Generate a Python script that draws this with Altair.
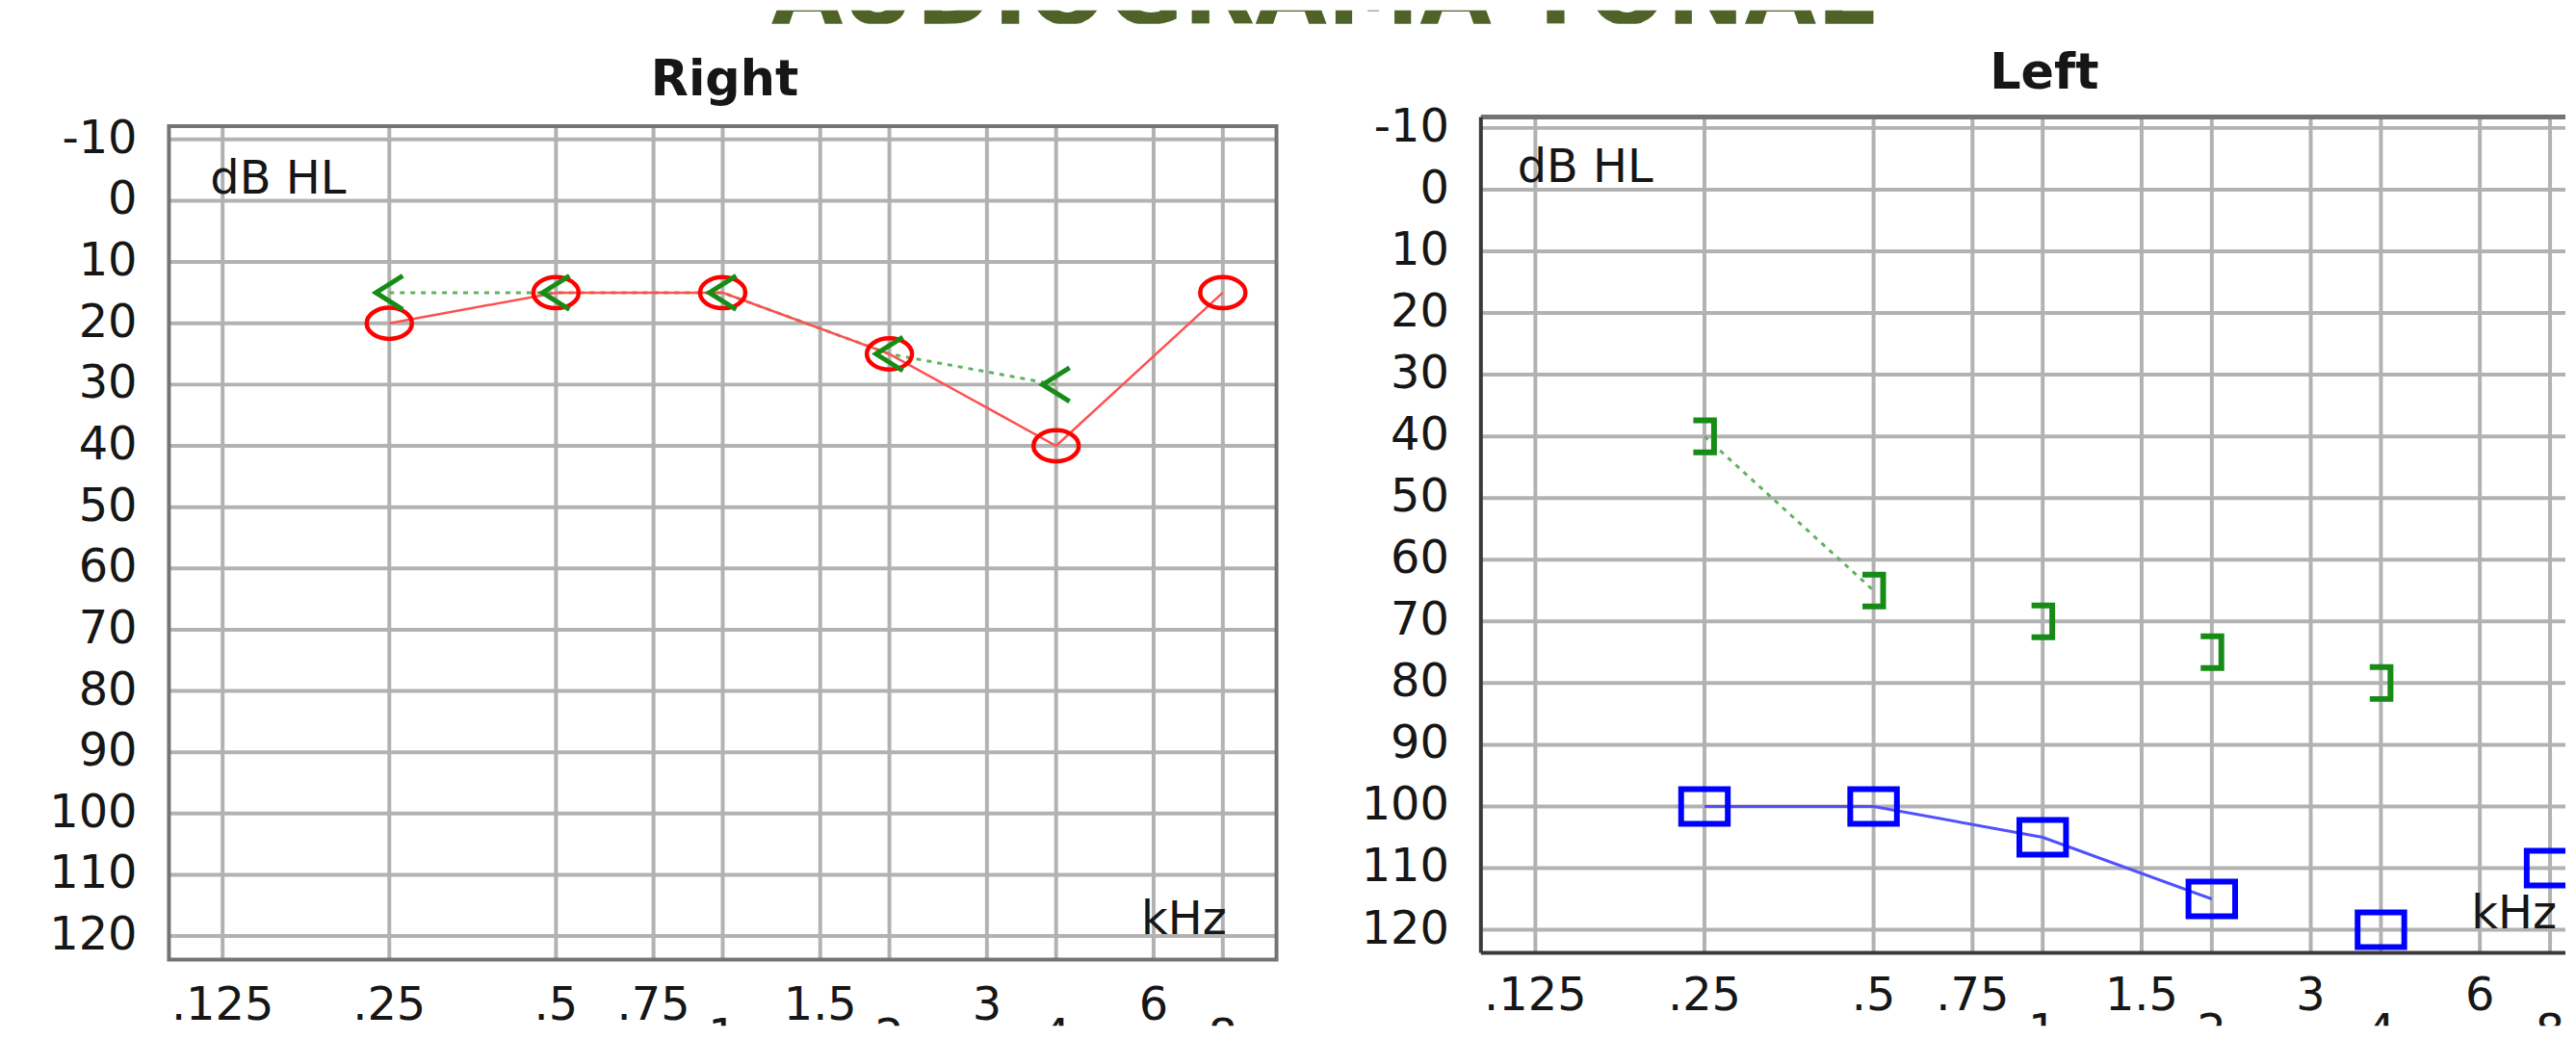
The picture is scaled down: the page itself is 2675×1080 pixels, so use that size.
import altair as alt
import pandas as pd

# ---------------- text ----------------
TITLE = "AUDIOGRAMA TONAL"
RIGHT_TITLE = "Right"
LEFT_TITLE = "Left"
Y_UNIT = "dB HL"
X_UNIT = "kHz"

# ---------------- axes values ----------------
tick_freqs = [0.125, 0.25, 0.5, 0.75, 1, 1.5, 2, 3, 4, 6, 8]
tick_labels = [".125", ".25", ".5", ".75", "1", "1.5", "2", "3", "4", "6", "8"]
tick_lower_row = [False, False, False, False, True, False, True, False, True, False, True]
db_ticks = [-10, 0, 10, 20, 30, 40, 50, 60, 70, 80, 90, 100, 110, 120]
db_labels = ["-10", "0", "10", "20", "30", "40", "50", "60", "70", "80", "90", "100", "110", "120"]

# ---------------- right ear ----------------
r_ac_freq = [0.25, 0.5, 1, 2, 4, 8]
r_ac_db = [20, 15, 15, 25, 40, 15]
r_bc_freq = [0.25, 0.5, 1, 2, 4]
r_bc_db = [15, 15, 15, 25, 30]

# ---------------- left ear ----------------
l_ac_freq = [0.25, 0.5, 1, 2, 4, 8]
l_ac_db = [100, 100, 105, 115, 120, 110]
l_ac_joined = [True, True, True, True, False, False]
l_bc_freq = [0.25, 0.5, 1, 2, 4]
l_bc_db = [40, 65, 70, 75, 80]
l_bc_joined = [True, True, False, False, False]

# ---------------- style / layout ----------------
FONT = "DejaVu Sans"
LABEL = "#161616"
GRID = "#b2b2b2"
FRAME_GRAY = "#747474"
FRAME_DARK = "#3a3a3a"
RED = "#ff0000"
RED_LINE = "#ff5050"
GREEN = "#168c16"
GREEN_DOT = "#5fb35f"
BLUE = "#0000ff"
BLUE_LINE = "#5050ff"
OLIVE = "#4f6228"
FS = 48

H = 947                       # plot area runs down to the bottom edge (labels get clipped there)
W_R, W_L = 1154, 1130
X_DOM_R = [0.1, 10]
X_DOM_L = [0.1, 8.52]         # the left panel is cut by the picture's right edge
Y_DOM_R = [-13.68, 134.63]
FRAME_R = [-12.19, 123.83]
Y_DOM_L = [-11.79, 135.56]
FRAME_L = [-11.79, 123.73]

ELLIPSE = "M -1.45 0 A 1.45 1 0 1 0 1.45 0 A 1.45 1 0 1 0 -1.45 0 Z"
CHEVRON = "M 0.8 -1 L -0.8 0 L 0.8 1"
BRACKET = "M -0.7 -1 L 0.6 -1 L 0.6 1 L -0.7 1"
SQUARE = "M -1.35 -1 L 1.35 -1 L 1.35 1 L -1.35 1 Z"


def make_enc(xdom, ydom):
    def xs(field):
        return alt.X(field + ":Q", scale=alt.Scale(type="log", domain=xdom, nice=False), axis=None)

    def ys(field):
        return alt.Y(field + ":Q", scale=alt.Scale(domain=ydom, reverse=True, nice=False, zero=False),
                     axis=None)
    return xs, ys


def text_layer(txt, x, y, align, size=FS, weight="normal", clip=False):
    return alt.Chart(pd.DataFrame({"t": [txt]})).mark_text(
        font=FONT, fontSize=size, fontWeight=weight, color=LABEL, align=align,
        baseline="alphabetic", clip=clip
    ).encode(text="t:N", x=alt.value(x), y=alt.value(y))


def panel(xdom, ydom, frame, width, xlab_y, xlab_gap, data_layers, unit_pos, khz_pos, title,
          title_pos, full_frame):
    xs, ys = make_enc(xdom, ydom)
    vg = alt.Chart(pd.DataFrame({"f": tick_freqs, "top": frame[0], "bot": frame[1]})).mark_rule(
        color=GRID, strokeWidth=4).encode(x=xs("f"), y=ys("top"), y2="bot:Q")
    hg = alt.Chart(pd.DataFrame({"db": db_ticks, "x0": xdom[0], "x1": xdom[1]})).mark_rule(
        color=GRID, strokeWidth=4).encode(x=xs("x0"), x2="x1:Q", y=ys("db"))
    yl = alt.Chart(pd.DataFrame({"db": db_ticks, "lab": db_labels})).mark_text(
        font=FONT, fontSize=FS, color=LABEL, align="right", baseline="middle").encode(
        text="lab:N", x=alt.value(-33), y=ys("db"))
    xdf = pd.DataFrame({"f": tick_freqs, "lab": tick_labels, "low": tick_lower_row})
    xl_top = alt.Chart(xdf[~xdf["low"]]).mark_text(
        font=FONT, fontSize=FS, color=LABEL, align="center", baseline="top", clip=True).encode(
        text="lab:N", x=xs("f"), y=alt.value(xlab_y))
    xl_low = alt.Chart(xdf[xdf["low"]]).mark_text(
        font=FONT, fontSize=FS, color=LABEL, align="center", baseline="top", clip=True).encode(
        text="lab:N", x=xs("f"), y=alt.value(xlab_y + xlab_gap))
    layers = [vg, hg, yl, xl_top, xl_low]
    if full_frame:
        fr = alt.Chart(pd.DataFrame({"x0": [xdom[0]], "x1": [xdom[1]],
                                     "y0": [frame[0]], "y1": [frame[1]]})).mark_rect(
            fill="transparent", stroke=FRAME_GRAY, strokeWidth=4).encode(
            x=xs("x0"), x2="x1:Q", y=ys("y0"), y2="y1:Q")
        layers.append(fr)
    else:
        top = alt.Chart(pd.DataFrame({"x0": [xdom[0]], "x1": [xdom[1]], "y0": [frame[0]]})).mark_rule(
            color=FRAME_GRAY, strokeWidth=5).encode(x=xs("x0"), x2="x1:Q", y=ys("y0"))
        edges = alt.Chart(pd.DataFrame({"x0": [xdom[0], xdom[0]], "x1": [xdom[0], xdom[1]],
                                        "y0": [frame[0], frame[1]],
                                        "y1": [frame[1], frame[1]]})).mark_rule(
            color=FRAME_DARK, strokeWidth=4).encode(x=xs("x0"), x2="x1:Q", y=ys("y0"), y2="y1:Q")
        layers += [top, edges]
    for build in data_layers:
        layers.append(build(xs, ys))
    layers.append(text_layer(Y_UNIT, unit_pos[0], unit_pos[1], "left"))
    layers.append(text_layer(X_UNIT, khz_pos[0], khz_pos[1], "left", clip=True))
    layers.append(text_layer(title, title_pos[0], title_pos[1], "center", size=51, weight="bold"))
    return alt.layer(*layers).properties(width=width, height=H)


def line(df, color, width, dash=None):
    def build(xs, ys):
        kw = dict(color=color, strokeWidth=width)
        if dash:
            kw["strokeDash"] = dash
        return alt.Chart(df).mark_line(**kw).encode(x=xs("f"), y=ys("db"))
    return build


def points(df, shape, size, color, width):
    def build(xs, ys):
        return alt.Chart(df).mark_point(shape=shape, size=size, filled=False, color=color,
                                        strokeWidth=width, opacity=1, clip=True).encode(
            x=xs("f"), y=ys("db"))
    return build


# ================= Right panel =================
df_r_ac = pd.DataFrame({"f": r_ac_freq, "db": r_ac_db})
df_r_bc = pd.DataFrame({"f": r_bc_freq, "db": r_bc_db})

right = panel(
    X_DOM_R, Y_DOM_R, FRAME_R, W_R, 903, 33,
    [line(df_r_bc, GREEN_DOT, 3, [5, 6]), line(df_r_ac, RED_LINE, 2.5),
     points(df_r_ac, ELLIPSE, 1056, RED, 4.5), points(df_r_bc, CHEVRON, 1225, GREEN, 5)],
    (43, 80), (1013, 851), RIGHT_TITLE, (579, -22), True)

# ================= Left panel =================
df_l_ac = pd.DataFrame({"f": l_ac_freq, "db": l_ac_db, "j": l_ac_joined})
df_l_bc = pd.DataFrame({"f": l_bc_freq, "db": l_bc_db, "j": l_bc_joined})

left = panel(
    X_DOM_L, Y_DOM_L, FRAME_L, W_L, 893, 38,
    [line(df_l_bc[df_l_bc["j"]], GREEN_DOT, 3, [5, 6]), line(df_l_ac[df_l_ac["j"]], BLUE_LINE, 3),
     points(df_l_ac, SQUARE, 1296, BLUE, 6), points(df_l_bc, BRACKET, 1100, GREEN, 6)],
    (38, 68), (1032, 845), LEFT_TITLE, (587, -30), False)

# ================= page title (cut at the top) =================
title_view = alt.Chart(pd.DataFrame({"t": [TITLE]})).mark_text(
    font=FONT, fontSize=97, fontWeight="bold", color=OLIVE, align="center",
    baseline="alphabetic", clip=True
).encode(text="t:N", x=alt.value(1203), y=alt.value(14)).properties(width=2000, height=14)

panels = alt.hconcat(right, left, spacing=84)
chart = alt.vconcat(title_view, panels, spacing=24).properties(
    padding={"left": 42, "top": 0, "right": 0, "bottom": 0}
).configure_view(stroke="transparent")

chart.save("out.html", embed_options={"renderer": "svg", "actions": False})
